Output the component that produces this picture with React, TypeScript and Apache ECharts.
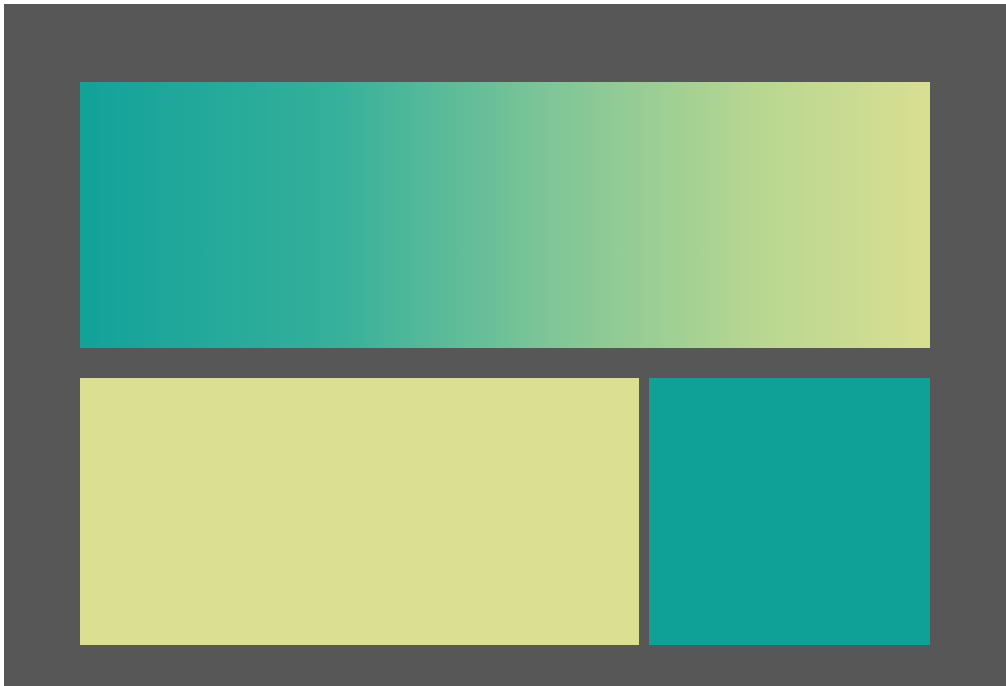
import React, { useEffect, useRef } from "react";
import * as echarts from "echarts";

// Block names and extents in layout units (x from left, y from top)
const blockNames = ["top", "bottomLeft", "bottomRight"];
const blockX0 = [0, 0, 569];
const blockX1 = [850, 559, 850];
const blockY0 = [0, 296, 296];
const blockY1 = [266, 563, 563];
const blockKinds = ["gradient", "yellow", "teal"];

const TEAL = "#0fa097";
const YELLOW = "#dadf91";

export default function App() {
  const ref = useRef<HTMLDivElement>(null);
  useEffect(() => {
    document.body.style.margin = "0";
    const chart = echarts.init(ref.current!, undefined, { renderer: "svg" });
    const data = blockNames.map((n, i) => ({
      name: n,
      value: [blockX0[i], blockX1[i], blockY0[i], blockY1[i], i],
    }));
    chart.setOption({
      animation: false,
      backgroundColor: "#575757",
      grid: { left: 76, right: 76 - 0, top: 78, bottom: 41, containLabel: false },
      xAxis: { type: "value", min: 0, max: 850, show: false },
      yAxis: { type: "value", min: 0, max: 563, inverse: true, show: false },
      series: [
        {
          type: "custom",
          data,
          renderItem: (params: any, api: any) => {
            const idx = api.value(4);
            const p0 = api.coord([api.value(0), api.value(2)]);
            const p1 = api.coord([api.value(1), api.value(3)]);
            const kind = blockKinds[idx];
            let fill: any = kind === "yellow" ? YELLOW : TEAL;
            if (kind === "gradient") {
              fill = new echarts.graphic.LinearGradient(0, 0, 1, 0, [
                { offset: 0, color: "#12a29a" },
                { offset: 0.3, color: "#35b09b" },
                { offset: 0.55, color: "#7ec597" },
                { offset: 0.8, color: "#b8d791" },
                { offset: 1, color: "#d9df91" },
              ]);
            }
            return {
              type: "rect",
              shape: { x: p0[0], y: p0[1], width: p1[0] - p0[0], height: p1[1] - p0[1] },
              style: { fill },
            };
          },
        },
      ],
    });
    return () => chart.dispose();
  }, []);
  return (
    <div
      ref={ref}
      style={{ position: "absolute", left: 4, top: 4, width: 1002, height: 682 }}
    />
  );
}
